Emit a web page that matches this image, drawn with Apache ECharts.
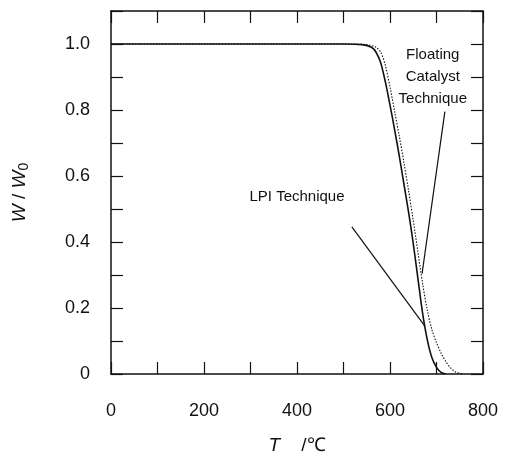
<!DOCTYPE html>
<html>
<head>
<meta charset="utf-8">
<script src="https://cdn.jsdelivr.net/npm/echarts@6/dist/echarts.min.js"></script>
<style>
  html, body { margin: 0; padding: 0; background: #fff; }
</style>
</head>
<body>
<div id="main" style="width: 506px; height: 460px"></div>
<script>
// LPI technique (solid)
const lpiT = [0, 500, 540, 560, 570, 580, 590, 600, 610, 620, 630, 640, 650, 660, 670, 680, 690, 700, 710, 720];
const lpiW = [1, 1, 0.998, 0.99, 0.975, 0.943, 0.885, 0.815, 0.74, 0.66, 0.575, 0.49, 0.395, 0.29, 0.185, 0.105, 0.05, 0.02, 0.005, 0];
// floating catalyst technique (dotted)
const fcT = [0, 500, 550, 570, 580, 590, 600, 610, 620, 630, 640, 650, 660, 670, 680, 690, 700, 710, 720, 730, 740, 750, 757];
const fcW = [1, 1, 0.998, 0.99, 0.975, 0.935, 0.87, 0.795, 0.72, 0.64, 0.555, 0.465, 0.37, 0.275, 0.195, 0.135, 0.095, 0.063, 0.038, 0.019, 0.007, 0.002, 0];
// leader lines [T, W]
const lpiLeader = [[518, 0.446], [675, 0.145]];
const fcLeader = [[718, 0.795], [669, 0.304]];
// tick labels
const xLabels = [0, 200, 400, 600, 800];
const yLabels = [0, 0.2, 0.4, 0.6, 0.8, 1.0];

const font = "Liberation Sans";
const black = "#111";

function pairs(xs, ys) {
  return xs.map((x, i) => [x, ys[i]]);
}

const myChart = echarts.init(document.getElementById("main"));

const axisLine = { show: true, onZero: false, lineStyle: { color: black, width: 1.5 } };
const tickIn = { show: true, inside: true, length: 12, lineStyle: { color: black, width: 1.2 } };

const option = {
  animation: false,
  grid: { left: 111, right: 23, top: 11, bottom: 84 },
  xAxis: [
    {
      type: "value",
      min: 0,
      max: 800,
      interval: 100,
      axisLine: axisLine,
      axisTick: tickIn,
      splitLine: { show: false },
      axisLabel: {
        color: black,
        fontFamily: font,
        fontSize: 18,
        margin: 28,
        formatter: (v) => (xLabels.indexOf(v) >= 0 ? String(v) : ""),
      },
      name: "{i|T}    /℃",
      nameLocation: "middle",
      nameGap: 62,
      nameTextStyle: {
        color: black,
        fontFamily: font,
        fontSize: 19,
        rich: { i: { fontStyle: "italic", fontFamily: font, fontSize: 19, color: black } },
      },
    },
    {
      type: "value",
      position: "top",
      min: 0,
      max: 800,
      interval: 100,
      axisLine: axisLine,
      axisTick: tickIn,
      axisLabel: { show: false },
      splitLine: { show: false },
    },
  ],
  yAxis: [
    {
      type: "value",
      min: 0,
      max: 1.1,
      interval: 0.1,
      axisLine: axisLine,
      axisTick: tickIn,
      splitLine: { show: false },
      axisLabel: {
        color: black,
        fontFamily: font,
        fontSize: 18,
        margin: 21,
        formatter: (v) => {
          const k = yLabels.findIndex((l) => Math.abs(l - v) < 1e-6);
          if (k < 0) return "";
          return yLabels[k] === 0 ? "0" : yLabels[k].toFixed(1);
        },
      },
      name: "{i|W} / {i|W}{s|0}",
      nameLocation: "middle",
      nameGap: 80,
      nameTextStyle: {
        color: black,
        fontFamily: font,
        fontSize: 19,
        rich: {
          i: { fontStyle: "italic", fontFamily: font, fontSize: 19, color: black },
          s: { fontFamily: font, fontSize: 14, color: black, padding: [8, 0, 0, 0] },
        },
      },
    },
    {
      type: "value",
      position: "right",
      min: 0,
      max: 1.1,
      interval: 0.1,
      axisLine: axisLine,
      axisTick: tickIn,
      axisLabel: { show: false },
      splitLine: { show: false },
    },
  ],
  series: [
    {
      name: "LPI Technique",
      type: "line",
      data: pairs(lpiT, lpiW),
      smooth: 0.3,
      showSymbol: false,
      lineStyle: { color: black, width: 1.6 },
    },
    {
      name: "Floating Catalyst Technique",
      type: "line",
      data: pairs(fcT, fcW),
      smooth: 0.3,
      showSymbol: false,
      lineStyle: { color: black, width: 1.1, type: [1.5, 1.5] },
    },
    {
      type: "line",
      data: lpiLeader,
      showSymbol: false,
      lineStyle: { color: black, width: 1.2 },
    },
    {
      type: "line",
      data: fcLeader,
      showSymbol: false,
      lineStyle: { color: black, width: 1.2 },
    },
  ],
};
myChart.setOption(option);

// annotation texts placed in data coordinates
const notes = [
  { text: "LPI Technique", at: [400, 0.536] },
  { text: "Floating", at: [692, 0.967] },
  { text: "Catalyst", at: [692, 0.9] },
  { text: "Technique", at: [692, 0.834] },
];
myChart.setOption({
  graphic: notes.map((n) => {
    const p = myChart.convertToPixel({ gridIndex: 0 }, n.at);
    return {
      type: "text",
      x: p[0],
      y: p[1],
      style: {
        text: n.text,
        fill: black,
        font: "15px " + font,
        textAlign: "center",
        textVerticalAlign: "middle",
      },
    };
  }),
});
</script>
</body>
</html>
